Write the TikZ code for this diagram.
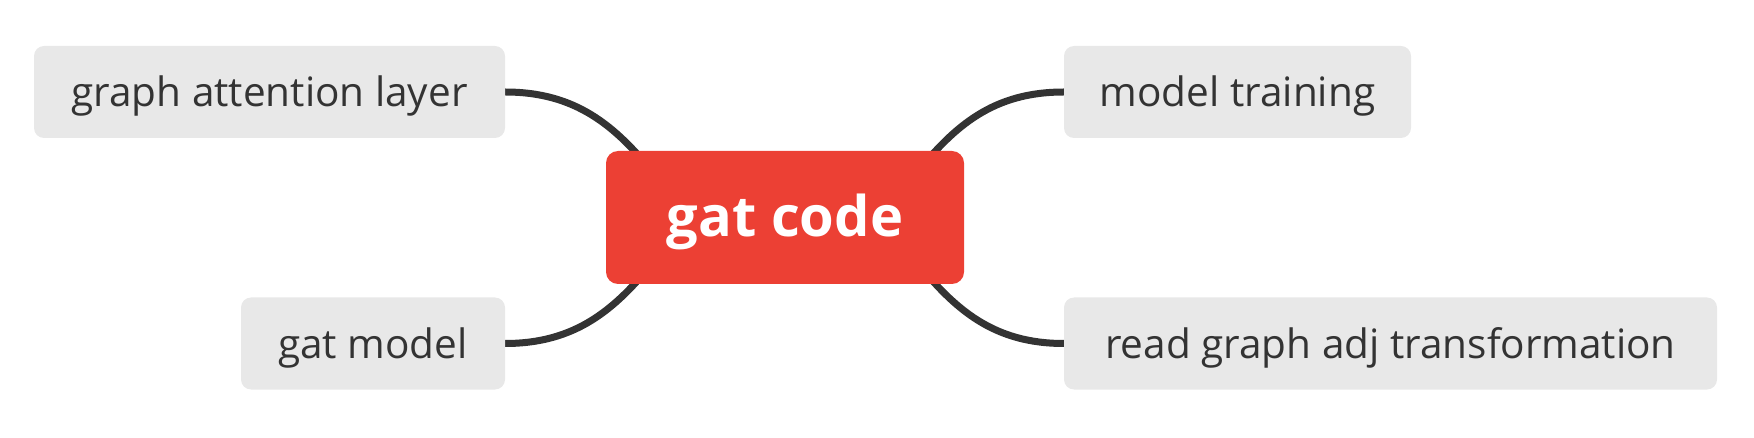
\documentclass[tikz,border=0pt]{standalone}
\usepackage{fontspec}
\setmainfont{Open Sans}
\usetikzlibrary{backgrounds}
\definecolor{rootred}{HTML}{EC4034}
\definecolor{boxgray}{HTML}{E8E8E8}
\definecolor{inkgray}{HTML}{333333}
\begin{document}
\begin{tikzpicture}[x=1pt,y=-1pt,
  topicbox/.style={fill=boxgray,rounded corners=10pt,inner sep=0pt,text=inkgray,
    font=\fontsize{40.5}{48}\selectfont,minimum height=92pt,anchor=center,
    text height=36pt,text depth=6pt},
  rootbox/.style={fill=rootred,rounded corners=12pt,inner sep=0pt,text=white,
    font=\fontsize{56}{64}\selectfont\bfseries,minimum width=358pt,minimum height=133pt,
    text height=45pt,text depth=6pt},
  branch/.style={draw=inkgray,line width=7pt}]
\useasboundingbox (0,0) rectangle (1754,438);
\node[rootbox] (root) at (785,217.5) {gat code};
\node[topicbox,minimum width=471pt] (gal) at (269.5,92) {graph attention layer};
\node[topicbox,minimum width=264pt] (gm) at (373,343.5) {gat model};
\node[topicbox,minimum width=347pt] (mt) at (1237.5,92) {model training};
\node[topicbox,minimum width=653pt] (rg) at (1390.5,343.5) {read graph adj transformation};
\coordinate (jtl) at (655,175);
\coordinate (jtr) at (915,175);
\coordinate (jbl) at (655,260);
\coordinate (jbr) at (915,260);
\begin{scope}[on background layer]
\draw[branch] (gal.east) .. controls +(70,0) and +(-40,-50) .. (jtl);
\draw[branch] (gm.east) .. controls +(70,0) and +(-40,50) .. (jbl);
\draw[branch] (mt.west) .. controls +(-70,0) and +(40,-50) .. (jtr);
\draw[branch] (rg.west) .. controls +(-70,0) and +(40,50) .. (jbr);
\end{scope}
\end{tikzpicture}
\end{document}
